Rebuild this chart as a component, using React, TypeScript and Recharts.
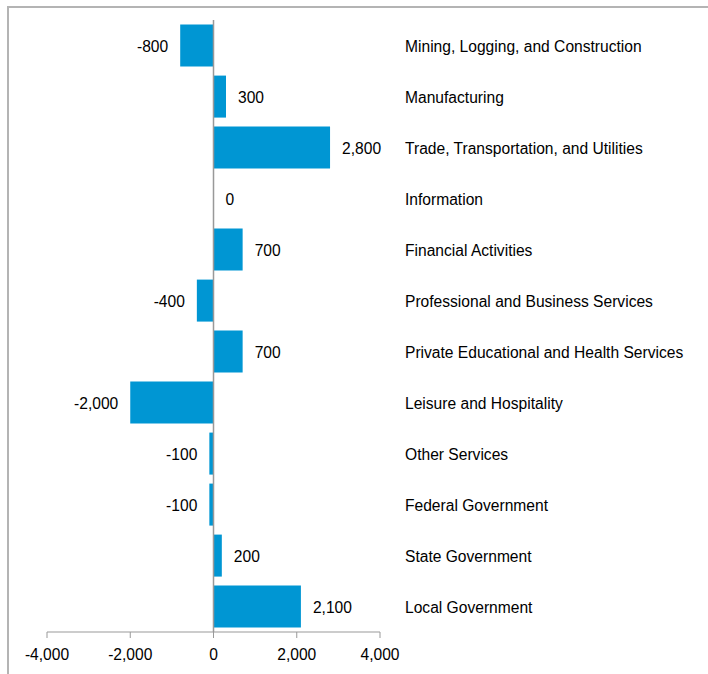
import React from 'react'
import { BarChart, Bar, XAxis, YAxis, ReferenceLine, Rectangle } from 'recharts'

const categories = [
  'Mining, Logging, and Construction',
  'Manufacturing',
  'Trade, Transportation, and Utilities',
  'Information',
  'Financial Activities',
  'Professional and Business Services',
  'Private Educational and Health Services',
  'Leisure and Hospitality',
  'Other Services',
  'Federal Government',
  'State Government',
  'Local Government',
]

const changes = [-800, 300, 2800, 0, 700, -400, 700, -2000, -100, -100, 200, 2100]

const xTicks = [-4000, -2000, 0, 2000, 4000]

const fmt = (v: number) => v.toLocaleString('en-US')

const chartData = categories.map((name, i) => ({ name, value: changes[i] }))

const FONT = '"Liberation Sans", Arial, sans-serif'
const FS = 15.6

function CategoryTick(props: any) {
  const { x, y, payload } = props
  return (
    <text x={x + 17} y={y} dy={6.5} textAnchor="start" fill="#000" fontSize={FS} fontFamily={FONT}>
      {payload.value}
    </text>
  )
}

// bar plus its value label, so the zero bar still gets "0"
function BarWithLabel(props: any) {
  const { x, y, width, height, fill, payload } = props
  const value = payload.value
  const left = Math.min(x, x + width)
  const right = Math.max(x, x + width)
  const neg = value < 0
  return (
    <g>
      {width !== 0 && <Rectangle x={left} y={y} width={right - left} height={height} fill={fill} />}
      <text
        x={neg ? left - 12 : right + 12}
        y={y + height / 2}
        dy={6.5}
        textAnchor={neg ? 'end' : 'start'}
        fill="#000"
        fontSize={FS}
        fontFamily={FONT}
      >
        {fmt(value)}
      </text>
    </g>
  )
}

export default function App() {
  return (
    <div style={{ position: 'absolute', left: 0, top: 0, width: 708, height: 674, overflow: 'hidden', background: '#fff' }}>
      <div
        style={{
          position: 'absolute',
          left: 7,
          top: 6,
          width: 760,
          height: 720,
          border: '2px solid #b4b4b4',
          boxSizing: 'border-box',
        }}
      />
      <BarChart
        width={708}
        height={674}
        data={chartData}
        layout="vertical"
        margin={{ top: 20, right: 0, bottom: 12, left: 47 }}
        barCategoryGap="9%"
        style={{ position: 'absolute', left: 0, top: 0 }}
      >
        <XAxis
          type="number"
          domain={[-4000, 4000]}
          ticks={xTicks}
          tickFormatter={fmt}
          stroke="#999"
          tickSize={6}
          tickMargin={11}
          height={30}
          tick={{ fill: '#000', fontSize: FS, fontFamily: FONT }}
        />
        <YAxis
          type="category"
          dataKey="name"
          orientation="right"
          width={328}
          axisLine={false}
          tickLine={false}
          tick={<CategoryTick />}
        />
        <ReferenceLine x={0} stroke="#999" strokeWidth={1.5} />
        <Bar dataKey="value" fill="#0096d3" isAnimationActive={false} shape={<BarWithLabel />} />
      </BarChart>
    </div>
  )
}
